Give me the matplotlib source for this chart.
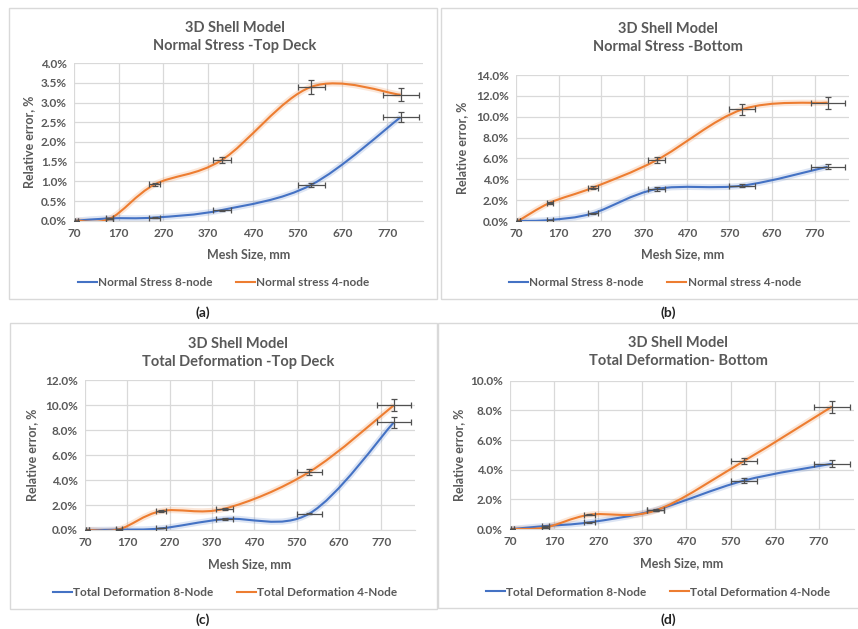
import numpy as np
import matplotlib
matplotlib.use("Agg")
import matplotlib.pyplot as plt
from matplotlib.path import Path
from matplotlib.patches import PathPatch, Rectangle
from matplotlib.lines import Line2D
from matplotlib.ticker import MultipleLocator, FixedLocator, FuncFormatter

# ---------------- data ----------------
mesh = [75, 150, 250, 400, 600, 800]
a8 = [0.0, 0.06, 0.08, 0.27, 0.91, 2.63]
a4 = [0.0, 0.05, 0.92, 1.54, 3.40, 3.20]
b8 = [0.0, 0.10, 0.74, 3.07, 3.39, 5.20]
b4 = [0.0, 1.76, 3.20, 5.85, 10.70, 11.35]
c8 = [0.0, 0.03, 0.13, 0.88, 1.31, 8.63]
c4 = [0.0, 0.05, 1.52, 1.71, 4.65, 10.00]
d8 = [0.0, 0.20, 0.45, 1.28, 3.26, 4.40]
d4 = [0.0, 0.10, 0.96, 1.25, 4.58, 8.25]
x_ticks = [70, 170, 270, 370, 470, 570, 670, 770]

titles = ["3D Shell Model\nNormal Stress -Top Deck",
          "3D Shell Model\nNormal Stress -Bottom",
          "3D Shell Model\nTotal Deformation -Top Deck",
          "3D Shell Model\nTotal Deformation- Bottom"]
labels8 = ["Normal Stress 8-node", "Normal Stress 8-node",
           "Total Deformation 8-Node", "Total Deformation 8-Node"]
labels4 = ["Normal stress 4-node", "Normal stress 4-node",
           "Total Deformation 4-Node", "Total Deformation 4-Node"]
ymax = [4.0, 14.0, 12.0, 10.0]
ystep = [0.5, 2.0, 2.0, 2.0]
panel_tags = ["(a)", "(b)", "(c)", "(d)"]

W, H = 858, 629
plt.rcParams['font.family'] = ['Lato', 'DejaVu Sans']
TXT = '#595959'
BLUE = '#4472C4'
ORANGE = '#ED7D31'
GRID = '#D9D9D9'

fig = plt.figure(figsize=(W / 100, H / 100), dpi=100)
fig.patch.set_facecolor('white')

def fx(px):
    return px / W

def fy(py):
    return 1 - py / H

# plot area in pixels: left, top, right, bottom
areas = [(74, 63.3, 423, 220.7), (516, 75, 849, 221),
         (85, 380.3, 415, 530), (510, 380.7, 854, 529)]
boxes = [(8.5, 7.5, 437, 299), (441, 7.5, 880, 299),
         (10, 322.5, 437, 609), (438, 322.5, 880, 607.5)]
title_pos = [(235, 37), (668, 38), (238, 353), (678, 352)]
xlabel_y = [254, 254, 564, 563]
ylabel_x = [29, 462, 32, 459]
legend_pos = [(224, 283), (655, 283), (225, 593), (658, 592)]
tag_pos = [(203, 313), (668, 313), (203, 620), (668, 620)]


def smooth_path(xs, ys):
    pts = np.column_stack([xs, ys]).astype(float)
    n = len(pts)
    verts = [pts[0]]
    codes = [Path.MOVETO]
    for i in range(n - 1):
        p0 = pts[max(i - 1, 0)]
        p1 = pts[i]
        p2 = pts[i + 1]
        p3 = pts[min(i + 2, n - 1)]
        c1 = p1 + (p2 - p0) / 6.0
        c2 = p2 - (p3 - p1) / 6.0
        verts += [c1, c2, p2]
        codes += [Path.CURVE4] * 3
    return Path(verts, codes)


series = [(a8, a4), (b8, b4), (c8, c4), (d8, d4)]
for k in range(4):
    bx0, by0, bx1, by1 = boxes[k]
    fig.patches.append(Rectangle((fx(bx0), fy(by1)), fx(bx1 - bx0), (by1 - by0) / H,
                                 transform=fig.transFigure, fill=False,
                                 edgecolor='#D9D9D9', linewidth=1.0, zorder=0))
    l, t, r, b = areas[k]
    ax = fig.add_axes([fx(l), fy(b), fx(r - l), (b - t) / H])
    ax.set_xlim(70, 850)
    ax.set_ylim(0, ymax[k])
    ax.xaxis.set_major_locator(FixedLocator(x_ticks))
    ax.yaxis.set_major_locator(MultipleLocator(ystep[k]))
    ax.xaxis.set_major_formatter(FuncFormatter(lambda v, p: f"{v:.0f}"))
    ax.yaxis.set_major_formatter(FuncFormatter(lambda v, p: f"{v:.1f}%"))
    ax.grid(True, color=GRID, linewidth=0.9)
    ax.set_axisbelow(True)
    for s in ['top', 'right', 'left']:
        ax.spines[s].set_visible(False)
    ax.spines['bottom'].set_color(GRID)
    ax.tick_params(length=0, labelsize=8.5, labelcolor=TXT, pad=5)
    for lab in ax.get_xticklabels() + ax.get_yticklabels():
        lab.set_fontweight('bold')

    y8, y4 = series[k]
    for ys, col in ((y8, BLUE), (y4, ORANGE)):
        path = smooth_path(mesh, ys)
        ax.add_patch(PathPatch(path, fill=False, edgecolor=col, linewidth=4.5,
                               alpha=0.18, zorder=2))
        ax.add_patch(PathPatch(path, fill=False, edgecolor=col, linewidth=1.5,
                               zorder=3))
        xe = [0.05 * v for v in mesh]
        ye = [0.05 * v for v in ys]
        ax.errorbar(mesh, ys, xerr=xe, yerr=ye, fmt='none', ecolor='#505050',
                    elinewidth=0.9, capsize=2.5, capthick=0.9, zorder=4)

    tx, ty = title_pos[k]
    fig.text(fx(tx), fy(ty), titles[k], ha='center', va='center', fontsize=10.5,
             fontweight='bold', color=TXT, linespacing=1.35)
    fig.text(fx((l + r) / 2), fy(xlabel_y[k]), "Mesh Size, mm", ha='center',
             va='center', fontsize=9, fontweight='bold', color=TXT)
    fig.text(fx(ylabel_x[k]), fy((t + b) / 2), "Relative error, %", ha='center',
             va='center', rotation=90, fontsize=9, fontweight='bold', color=TXT)
    handles = [Line2D([], [], color=BLUE, lw=1.5), Line2D([], [], color=ORANGE, lw=1.5)]
    lx, ly = legend_pos[k]
    fig.legend(handles, [labels8[k], labels4[k]], loc='center',
               bbox_to_anchor=(fx(lx), fy(ly)), ncol=2, frameon=False,
               handlelength=1.6, handletextpad=0.1, columnspacing=2.0,
               prop={'size': 8.5, 'weight': 'bold'}, labelcolor=TXT)
    gx, gy = tag_pos[k]
    fig.text(fx(gx), fy(gy), panel_tags[k], ha='center', va='center',
             fontsize=10, fontweight='bold', color='#222222')

fig.savefig("out.png", dpi=100, facecolor='white')
